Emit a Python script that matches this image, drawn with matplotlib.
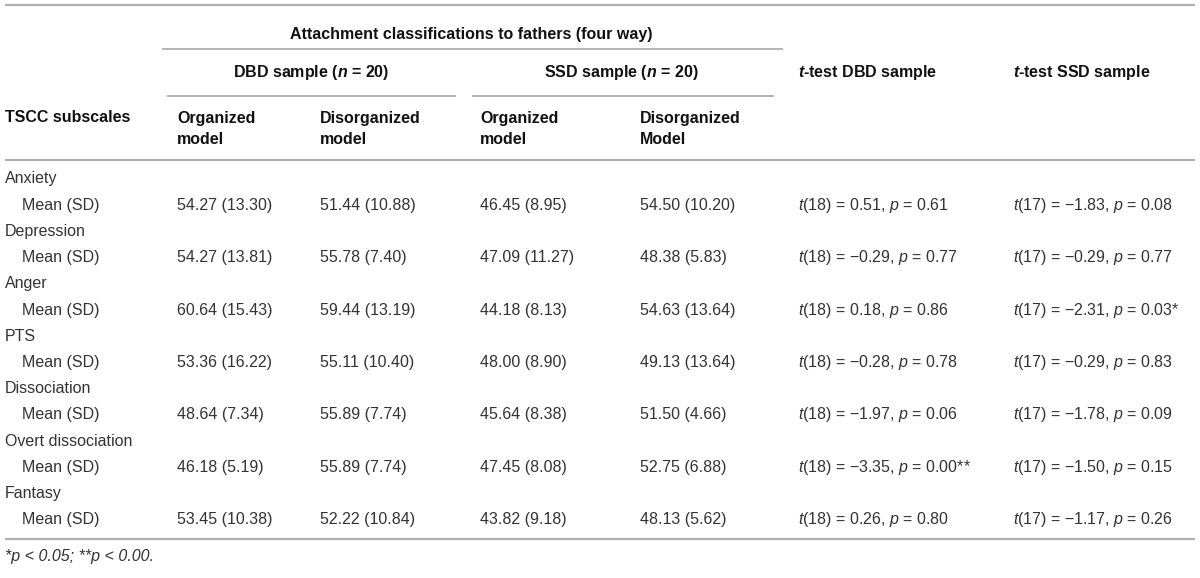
import matplotlib
matplotlib.use("Agg")
import matplotlib.pyplot as plt

plt.rcParams['font.family'] = ['Liberation Sans', 'DejaVu Sans']
plt.rcParams['mathtext.fontset'] = 'custom'
plt.rcParams['mathtext.rm'] = 'Liberation Sans'
plt.rcParams['mathtext.it'] = 'Liberation Sans:italic'
plt.rcParams['mathtext.bf'] = 'Liberation Sans:bold'
plt.rcParams['mathtext.bfit'] = 'Liberation Sans:bold:italic'

# ---- data ----
subscales = ["Anxiety", "Depression", "Anger", "PTS", "Dissociation",
             "Overt dissociation", "Fantasy"]
dbd_organized = ["54.27 (13.30)", "54.27 (13.81)", "60.64 (15.43)", "53.36 (16.22)",
                 "48.64 (7.34)", "46.18 (5.19)", "53.45 (10.38)"]
dbd_disorganized = ["51.44 (10.88)", "55.78 (7.40)", "59.44 (13.19)", "55.11 (10.40)",
                    "55.89 (7.74)", "55.89 (7.74)", "52.22 (10.84)"]
ssd_organized = ["46.45 (8.95)", "47.09 (11.27)", "44.18 (8.13)", "48.00 (8.90)",
                 "45.64 (8.38)", "47.45 (8.08)", "43.82 (9.18)"]
ssd_disorganized = ["54.50 (10.20)", "48.38 (5.83)", "54.63 (13.64)", "49.13 (13.64)",
                    "51.50 (4.66)", "52.75 (6.88)", "48.13 (5.62)"]
t_dbd = ["0.51", "\u22120.29", "0.18", "\u22120.28", "\u22121.97", "\u22123.35", "0.26"]
p_dbd = ["0.61", "0.77", "0.86", "0.78", "0.06", "0.00**", "0.80"]
t_ssd = ["\u22121.83", "\u22120.29", "\u22122.31", "\u22120.29", "\u22121.78", "\u22121.50", "\u22121.17"]
p_ssd = ["0.08", "0.77", "0.03*", "0.83", "0.09", "0.15", "0.26"]
df_dbd = 18
df_ssd = 17

W, H = 1200, 578
fig = plt.figure(figsize=(W / 100, H / 100), dpi=100)
ax = fig.add_axes([0, 0, 1, 1])
ax.set_xlim(0, W)
ax.set_ylim(H, 0)
ax.axis('off')

txt = '#333333'
line_c = '#b0b0b0'
fs = 11.5

def hline(y, x0, x1, lw=1.3):
    ax.plot([x0, x1], [y, y], color=line_c, lw=lw, solid_capstyle='butt')

# body layout
y0 = 179
step = 26.2
n_rows = 2 * len(subscales)
last_y = y0 + (n_rows - 1) * step

# rules
hline(5, 5, 1195, 1.6)
hline(49, 162, 783)
hline(96, 167, 456)
hline(96, 472, 774)
hline(160, 5, 1195, 1.6)
hline(last_y + 19, 5, 1195, 1.6)

# header text
bold = dict(fontsize=fs, fontweight='bold', color='#111111', va='center')
ax.text(471, 34, "Attachment classifications to fathers (four way)", ha='center', **bold)
ax.text(311, 72, r"DBD sample ($\mathbfit{n}$ = 20)", ha='center', **bold)
ax.text(621, 72, r"SSD sample ($\mathbfit{n}$ = 20)", ha='center', **bold)
ax.text(798, 72, r"$\mathbfit{t}$-test DBD sample", ha='left', **bold)
ax.text(1013, 72, r"$\mathbfit{t}$-test SSD sample", ha='left', **bold)
ax.text(5, 118, "TSCC subscales", ha='left', **bold)
col_x = [177, 320, 480, 640]
col_heads = ["Organized", "Disorganized", "Organized", "Disorganized"]
col_heads2 = ["model", "model", "model", "Model"]
for x, h, h2 in zip(col_x, col_heads, col_heads2):
    ax.text(x, 118, h, ha='left', **bold)
    ax.text(x, 140, h2, ha='left', **bold)

# body
body = dict(fontsize=fs, color=txt, va='center', ha='left')
for i, name in enumerate(subscales):
    yh = y0 + 2 * i * step
    ym = yh + step
    ax.text(5, yh, name, **body)
    ax.text(22, ym, "Mean (SD)", **body)
    for x, col in zip(col_x, [dbd_organized, dbd_disorganized, ssd_organized, ssd_disorganized]):
        ax.text(x, ym, col[i], **body)
    ax.text(798, ym, f"$t$({df_dbd}) = {t_dbd[i]}, $p$ = {p_dbd[i]}", **body)
    ax.text(1013, ym, f"$t$({df_ssd}) = {t_ssd[i]}, $p$ = {p_ssd[i]}", **body)

ax.text(5, last_y + 37, "*p < 0.05; **p < 0.00.", fontstyle='italic', **body)

fig.savefig("out.png", dpi=100)
